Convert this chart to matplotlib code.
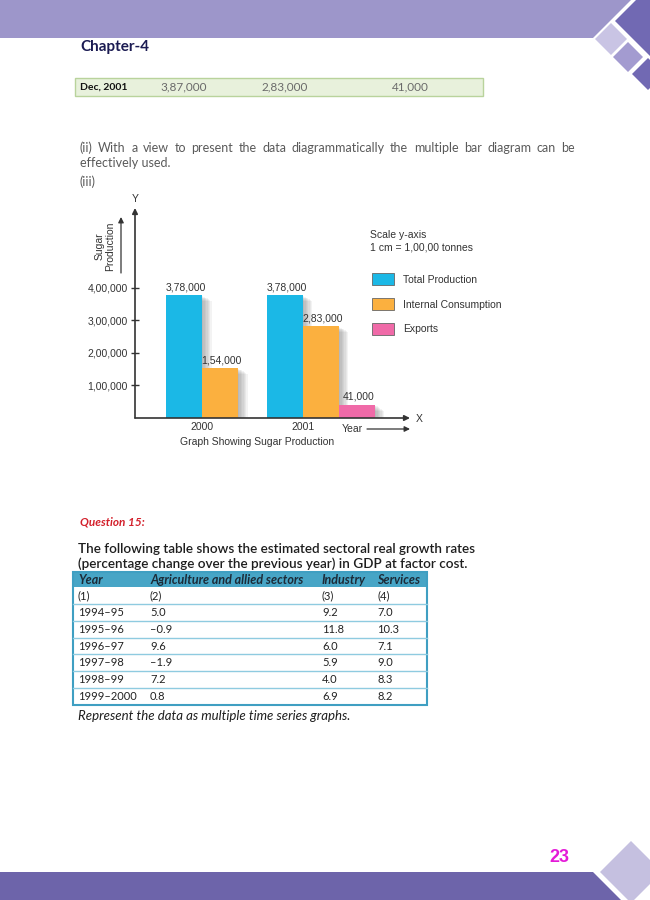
import matplotlib
matplotlib.use("Agg")
import matplotlib.pyplot as plt
import matplotlib.patheffects as pe
from matplotlib.patches import Polygon, Rectangle
import numpy as np

W, H = 650, 900

# bar chart data (sugar, tonnes)
years = ["2000", "2001"]
total_production = [378000, 378000]
internal_consumption = [154000, 283000]
exports = [0, 41000]
y_ticks = [100000, 200000, 300000, 400000]
series_names = ["Total Production", "Internal Consumption", "Exports"]

# Dec, 2001 row of the previous table
dec_row = ["Dec, 2001", "3,87,000", "2,83,000", "41,000"]

# growth rate table
table_head = ["Year", "Agriculture and allied sectors", "Industry", "Services"]
table_years = ["1994–95", "1995–96", "1996–97", "1997–98", "1998–99", "1999–2000"]
agriculture = [5.0, -0.9, 9.6, -1.9, 7.2, 0.8]
industry = [9.2, 11.8, 6.0, 5.9, 4.0, 6.9]
services = [7.0, 10.3, 7.1, 9.0, 8.3, 8.2]

BLUE, ORANGE, PINK = "#1bb8e6", "#fbb03f", "#f06aa8"
CHART_FONT = "Liberation Sans"
CS = 7.5  # chart font size

plt.rcParams["font.family"] = ["Lato", "DejaVu Sans"]


def indian(v):
    s = str(int(v))
    head, tail = s[:-3], s[-3:]
    parts = []
    while len(head) > 2:
        parts.insert(0, head[-2:])
        head = head[:-2]
    if head:
        parts.insert(0, head)
    return ",".join(parts + [tail])


def num(v):
    return f"{v:.1f}".replace("-", "–")


fig = plt.figure(figsize=(W / 100, H / 100), dpi=100)
page = fig.add_axes([0, 0, 1, 1])
page.set_xlim(0, W)
page.set_ylim(H, 0)
page.axis("off")

# page decoration
page.add_patch(Polygon([(0, 0), (631, 0), (593, 38), (0, 38)], color="#9d96ca", lw=0))
page.add_patch(Polygon([(636, 0), (650, 0), (650, 56), (615, 21)], color="#7169b3", lw=0))
page.add_patch(Polygon([(595, 39), (611, 23), (627, 39), (611, 55)], color="#c9c4e4", lw=0))
page.add_patch(Polygon([(613, 57), (628, 42), (643, 57), (628, 72)], color="#a39bd0", lw=0))
page.add_patch(Polygon([(632, 74), (648, 58), (664, 74), (648, 90)], color="#7169b3", lw=0))
page.add_patch(Polygon([(0, 872), (593, 872), (621, 900), (0, 900)], color="#6d64aa", lw=0))
page.add_patch(Polygon([(600, 872), (631, 841), (662, 872), (631, 903)], color="#c5c0e0", lw=0))
page.text(559, 858, "23", color="#e41ad8", fontsize=13, fontweight="bold",
          family=CHART_FONT, ha="center", va="center")

page.text(80, 47, "Chapter-4", color="#1b1b52", fontsize=11, fontweight="bold", va="center")

# Dec, 2001 row
page.add_patch(Rectangle((75, 78), 408, 18, facecolor="#e8f1dc", edgecolor="#b9d39c", lw=1))
for x, s in zip([80, 160, 262, 392], dec_row):
    first = s == dec_row[0]
    page.text(x, 87, s, fontsize=7.5 if first else 8.5, va="center",
              color="#111111" if first else "#6a6a6a",
              fontweight="bold" if first else "normal")


def justify(words, x0, x1, y, **kw):
    r = fig.canvas.get_renderer()
    texts = [page.text(0, y, w, va="center", **kw) for w in words]
    widths = [t.get_window_extent(r).width for t in texts]
    gap = (x1 - x0 - sum(widths)) / (len(words) - 1)
    x = x0
    for t, w in zip(texts, widths):
        t.set_x(x)
        x += w + gap


para = dict(fontsize=9, color="#5a5a5a")
justify("(ii) With a view to present the data diagrammatically the multiple bar diagram can be".split(),
        80, 575, 148, **para)
page.text(80, 163, "effectively used.", va="center", **para)
page.text(80, 182, "(iii)", va="center", **para)

# bar chart
ax = fig.add_axes([135 / W, 1 - 418 / H, (410 - 135) / W, (418 - 208) / H], zorder=2)
ax.patch.set_alpha(0)
x = np.arange(len(years)) * 2.8
shadow = [pe.SimplePatchShadow(offset=(k, -k * 0.6), shadow_rgbFace="#555555", alpha=0.07)
          for k in range(1, 8)] + [pe.Normal()]
b1 = ax.bar(x, total_production, width=1, color=BLUE, path_effects=shadow)
b2 = ax.bar(x + 1, internal_consumption, width=1, color=ORANGE, path_effects=shadow)
ex_x = [xi + 2 for xi, v in zip(x, exports) if v > 0]
ex_v = [v for v in exports if v > 0]
b3 = ax.bar(ex_x, ex_v, width=1, color=PINK, path_effects=shadow)
for bars, vals in [(b1, total_production), (b2, internal_consumption), (b3, ex_v)]:
    for rect, v in zip(bars, vals):
        ax.annotate(indian(v), (rect.get_x() + rect.get_width() / 2 + 0.05, v), xytext=(0, 2),
                    textcoords="offset points", ha="center", va="bottom", fontsize=CS,
                    family=CHART_FONT, color="#333333")

ax.set_xlim(-1.36, 6.28)
ax.set_ylim(0, 646000)
ax.set_yticks(y_ticks, [indian(v) for v in y_ticks])
ax.set_xticks(x + 0.5, years)
ax.tick_params(axis="y", direction="inout", length=6, width=1, color="#333333", pad=2)
ax.tick_params(axis="x", length=0, pad=3)
for lab in ax.get_xticklabels() + ax.get_yticklabels():
    lab.set_family(CHART_FONT)
    lab.set_fontsize(CS)
    lab.set_color("#333333")
for sp in ax.spines.values():
    sp.set_visible(False)
arrow = dict(arrowstyle="-|>", color="#333333", lw=1.2, mutation_scale=8, shrinkA=0, shrinkB=0)
ax.annotate("", xy=(0, 1), xytext=(0, 0), xycoords="axes fraction", arrowprops=arrow)
ax.annotate("", xy=(1, 0), xytext=(0, 0), xycoords="axes fraction", arrowprops=arrow)

chart_txt = dict(family=CHART_FONT, fontsize=CS, color="#333333")
page.text(135, 199, "Y", ha="center", va="center", **chart_txt)
page.text(419, 419, "X", ha="center", va="center", **chart_txt)
page.text(342, 429, "Year", ha="left", va="center", **chart_txt)
page.annotate("", xy=(410, 429), xytext=(367, 429), arrowprops=dict(arrow, lw=0.9))
page.text(257, 442, "Graph Showing Sugar Production", ha="center", va="center", **chart_txt)
page.text(105, 246, "Sugar\nProduction", rotation=90, ha="center", va="center",
          multialignment="center", linespacing=1.0, **chart_txt)
page.annotate("", xy=(121, 217), xytext=(121, 273), arrowprops=dict(arrow, lw=0.9))

page.text(370, 235, "Scale y-axis", va="center", **chart_txt)
page.text(370, 248, "1 cm = 1,00,00 tonnes", va="center", **chart_txt)
leg = fig.legend([Rectangle((0, 0), 1, 1, facecolor=c, edgecolor="#666666", lw=0.6)
                  for c in (BLUE, ORANGE, PINK)], series_names,
                 loc="upper left", bbox_to_anchor=(372 / W, 1 - 273 / H), borderaxespad=0,
                 borderpad=0, frameon=False, handlelength=2.1, handleheight=1.45,
                 handletextpad=0.85, labelspacing=1.2, prop={"family": CHART_FONT, "size": CS})
for t in leg.get_texts():
    t.set_color("#333333")

# question 15
page.text(80, 522, "Question 15:", color="#d3202b", fontsize=8.5, fontweight="bold",
          fontstyle="italic", va="center")
q = dict(fontsize=9.7, color="#1e1e1e", fontweight="semibold", va="center")
page.text(78, 549, "The following table shows the estimated sectoral real growth rates", **q)
page.text(78, 564, "(percentage change over the previous year) in GDP at factor cost.", **q)

TL, TR, HT, HB = 73, 427, 572, 587
rows = [["(1)", "(2)", "(3)", "(4)"]] + [
    [yr, num(a), num(i), num(s)] for yr, a, i, s in zip(table_years, agriculture, industry, services)]
row_h = (705 - HB) / len(rows)
col_x = [78, 150, 322, 377]
page.add_patch(Rectangle((TL, HT), TR - TL, HB - HT, facecolor="#47a5c6", lw=0))
for cx, s in zip(col_x, table_head):
    page.text(cx, (HT + HB) / 2, s, fontsize=9, fontweight="bold", fontstyle="italic",
              color="#1c2b38", va="center")
for r, row in enumerate(rows):
    top = HB + r * row_h
    if r > 0:
        page.plot([TL, TR], [top, top], color="#8fcbe0", lw=1)
    for cx, s in zip(col_x, row):
        page.text(cx, top + row_h / 2, s, fontsize=8, color="#222222", va="center")
page.add_patch(Rectangle((TL, HT), TR - TL, 705 - HT, fill=False, edgecolor="#3f9fc2", lw=1.5))
page.text(78, 716, "Represent the data as multiple time series graphs.", fontsize=9.5,
          fontstyle="italic", color="#1e1e1e", va="center")

fig.savefig("out.png", dpi=100)
